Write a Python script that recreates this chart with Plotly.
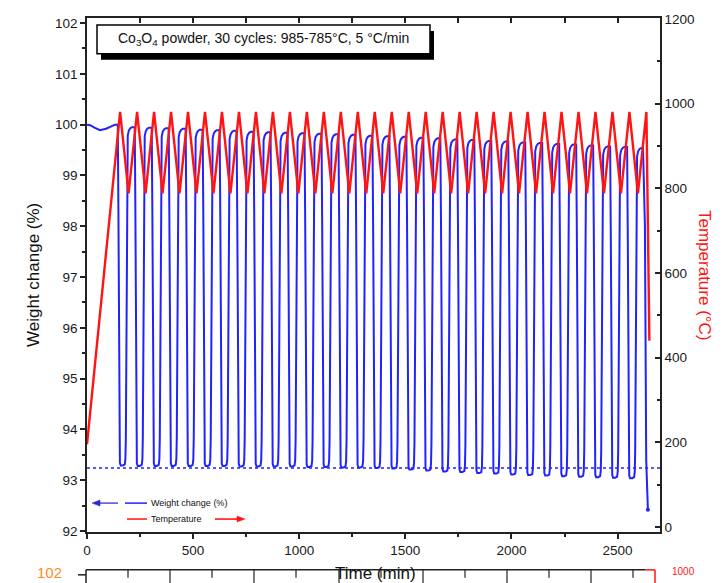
import plotly.graph_objects as go

# ---------------- data ----------------
# Temperature programme (red curve): start, alternating peaks/troughs, end
temp_start_time = 0
temp_start_value = 195
peak_times = [156, 236, 316, 396, 476, 556, 636, 716, 796, 876, 956, 1036, 1116, 1196, 1276, 1356,
              1436, 1516, 1596, 1676, 1756, 1836, 1916, 1996, 2076, 2156, 2236, 2316, 2396, 2476, 2556, 2636]
peak_temps = [980, 980, 980, 980, 980, 980, 980, 980, 980, 980, 980, 980, 980, 980, 980, 980,
              980, 980, 980, 980, 980, 980, 980, 980, 980, 980, 980, 980, 980, 980, 980, 980]
trough_times = [196, 276, 356, 436, 516, 596, 676, 756, 836, 916, 996, 1076, 1156, 1236, 1316, 1396,
                1476, 1556, 1636, 1716, 1796, 1876, 1956, 2036, 2116, 2196, 2276, 2356, 2436, 2516, 2596]
trough_temps = [788, 788, 788, 788, 788, 788, 788, 788, 788, 788, 788, 788, 788, 788, 788, 788,
                788, 788, 788, 788, 788, 788, 788, 788, 788, 788, 788, 788, 788, 788, 788]
temp_end_time = 2650
temp_end_value = 440

# Weight change (blue curve)
weight_init_times = [0, 15, 35, 61, 90, 115, 132, 140]
weight_init_values = [100.0, 99.99, 99.94, 99.89, 99.92, 99.97, 100.0, 100.0]
weight_tops = [99.95, 99.94, 99.93, 99.92, 99.90, 99.89, 99.88, 99.86, 99.85, 99.84, 99.83, 99.82,
               99.81, 99.80, 99.78, 99.77, 99.76, 99.74, 99.73, 99.71, 99.70, 99.68, 99.67, 99.65,
               99.64, 99.62, 99.61, 99.59, 99.57, 99.56, 99.54]
weight_bottoms = [93.29, 93.28, 93.28, 93.28, 93.28, 93.28, 93.28, 93.27, 93.27, 93.27, 93.27, 93.26,
                  93.26, 93.25, 93.25, 93.24, 93.23, 93.21, 93.19, 93.17, 93.16, 93.14, 93.13, 93.11,
                  93.10, 93.09, 93.08, 93.07, 93.06, 93.05, 93.04]
# shape of one redox step: minutes relative to the temperature peak,
# fraction of the way from bottom to top, and which top it refers to
cycle_dt = [-11, -8, -5, -3, -1, 3, 13, 22, 25, 27, 29, 31, 33, 36, 41, 48, 56, 64]
cycle_frac = [1.0, 0.75, 0.15, 0.03, 0.008, 0.0, 0.0, 0.003, 0.02, 0.08, 0.35, 0.75, 0.93, 0.975,
              0.99, 0.997, 1.0, 1.0]
cycle_side = ['d', 'd', 'd', 'd', 'd', 'd', 'u', 'u', 'u', 'u', 'u', 'u', 'u', 'u', 'u', 'u', 'u', 'u']
weight_end_times = [2629, 2632, 2635, 2643]
weight_end_values = [98.0, 94.5, 93.4, 92.42]
baseline_level = 93.24

# ---------------- build series ----------------
temp_t = [temp_start_time]
temp_v = [temp_start_value]
for i in range(len(peak_times)):
    temp_t.append(peak_times[i]); temp_v.append(peak_temps[i])
    if i < len(trough_times):
        temp_t.append(trough_times[i]); temp_v.append(trough_temps[i])
temp_t.append(temp_end_time); temp_v.append(temp_end_value)

w_t = list(weight_init_times)
w_v = list(weight_init_values)
for k in range(len(weight_bottoms)):
    P = peak_times[k]
    t_prev = weight_init_values[-1] if k == 0 else weight_tops[k - 1]
    t_next = weight_tops[k]
    b = weight_bottoms[k]
    for dt, fr, sd in zip(cycle_dt, cycle_frac, cycle_side):
        ref = t_prev if sd == 'd' else t_next
        w_t.append(P + dt)
        w_v.append(b + fr * (ref - b))
w_t += weight_end_times
w_v += weight_end_values

BLUE = '#2222ff'
RED = '#ff1414'
AX = '#222222'
FONT = 'Liberation Sans, Arial, sans-serif'

fig = go.Figure()
fig.add_trace(go.Scatter(x=w_t, y=w_v, mode='lines', line=dict(color=BLUE, width=2),
                         name='Weight change (%)', hoverinfo='skip'))
fig.add_trace(go.Scatter(x=[w_t[-1]], y=[w_v[-1]], mode='markers', marker=dict(color=BLUE, size=4),
                         hoverinfo='skip'))
fig.add_trace(go.Scatter(x=[0, 2700], y=[baseline_level, baseline_level], mode='lines',
                         line=dict(color=BLUE, width=1.5, dash='dot'), hoverinfo='skip'))
fig.add_trace(go.Scatter(x=[None], y=[None], xaxis='x2', yaxis='y', hoverinfo='skip'))
fig.add_trace(go.Scatter(x=temp_t, y=temp_v, mode='lines', yaxis='y2',
                         line=dict(color=RED, width=2.4), name='Temperature', hoverinfo='skip'))

W, H = 726, 583
L, R, T, B = 87, 66, 16, 51
pw, ph = W - L - R, H - T - B


def px(x):
    return (x - L) / pw


def py(y):
    return (H - B - y) / ph


axis_common = dict(showline=True, linecolor=AX, linewidth=1.5, showgrid=False, zeroline=False,
                   tickcolor=AX, tickwidth=1.5, tickfont=dict(size=13.5, color='#1a1a1a', family=FONT))

fig.update_layout(
    width=W, height=H, margin=dict(l=L, r=R, t=T, b=B),
    paper_bgcolor='white', plot_bgcolor='white', showlegend=False,
    font=dict(family=FONT, size=13.5, color='#1a1a1a'),
    xaxis=dict(range=[0, 2700], tickmode='linear', tick0=0, dtick=500, ticks='outside', ticklen=5,
               minor=dict(dtick=250, ticks='outside', ticklen=3, tickwidth=1.5, tickcolor=AX),
               **axis_common),
    xaxis2=dict(range=[0, 2700], overlaying='x', side='top', anchor='y', tickmode='linear', tick0=0,
                dtick=250, ticks='inside', ticklen=5, showticklabels=False, **axis_common),
    yaxis=dict(range=[91.98, 102.1], tickmode='linear', tick0=92, dtick=1, ticks='outside', ticklen=5,
               minor=dict(dtick=0.5, ticks='outside', ticklen=3, tickwidth=1.5, tickcolor=AX),
               **axis_common),
    yaxis2=dict(range=[-12, 1202], overlaying='y', side='right', anchor='x', tickmode='linear', tick0=0,
                dtick=200, ticks='inside', ticklen=5,
                minor=dict(dtick=100, ticks='inside', ticklen=3, tickwidth=1.5, tickcolor=AX),
                **axis_common),
)


def pline(x0, y0, x1, y1, color, width):
    return dict(type='line', xref='paper', yref='paper', x0=px(x0), x1=px(x1), y0=py(y0), y1=py(y1),
                line=dict(color=color, width=width), layer='above')


def ptri(pts, color):
    d = 'M ' + ' L '.join(f'{px(a):.5f},{py(b):.5f}' for a, b in pts) + ' Z'
    return dict(type='path', xref='paper', yref='paper', path=d, fillcolor=color,
                line=dict(color=color, width=0.5), layer='above')


shapes = []
# title box with drop shadow
shapes.append(dict(type='rect', xref='paper', yref='paper', x0=px(101), x1=px(434), y0=py(58), y1=py(29),
                   fillcolor='black', line=dict(width=0), layer='above'))
shapes.append(dict(type='rect', xref='paper', yref='paper', x0=px(97), x1=px(430), y0=py(52), y1=py(23),
                   fillcolor='white', line=dict(color='black', width=1.5), layer='above'))
# legend lines and arrows
shapes.append(pline(125, 503, 147, 503, BLUE, 1.5))
shapes.append(pline(127, 519, 147, 519, RED, 1.5))
shapes.append(pline(99, 503, 118, 503, '#5a5ad8', 1.6))
shapes.append(ptri([(92, 503), (100, 500), (100, 506)], '#2a2ad0'))
shapes.append(pline(215, 519, 238, 519, RED, 1.6))
shapes.append(ptri([(245, 519), (237, 516), (237, 522)], RED))
# fragment of the next panel at the bottom edge
shapes.append(pline(86, 570, 645, 570, AX, 1.5))
shapes.append(pline(645, 570, 655, 570, RED, 1.5))
shapes.append(pline(655, 570, 655, 590, RED, 1.5))
shapes.append(pline(78, 575, 86, 575, AX, 1.5))
shapes.append(pline(86, 570, 86, 590, AX, 1.5))
frag_ticks = [128, 170, 212, 254, 296, 339, 381, 423, 465, 507, 549, 591, 633]
for i, xt in enumerate(frag_ticks):
    shapes.append(pline(xt, 570, xt, 585 if i % 2 == 1 else 578, AX, 1.2))
fig.update_layout(shapes=shapes)

ann = []
ann.append(dict(text='Co<sub>3</sub>O<sub>4</sub> powder, 30 cycles: 985-785°C, 5 °C/min', xref='paper',
                yref='paper', x=px(263.5), y=py(37.5), showarrow=False, xanchor='center', yanchor='middle',
                font=dict(size=14, color='#111111', family=FONT)))
ann.append(dict(text='Weight change (%)', xref='paper', yref='paper', x=px(149), y=py(503), showarrow=False,
                xanchor='left', yanchor='middle', font=dict(size=9, color='#111111', family=FONT)))
ann.append(dict(text='Temperature', xref='paper', yref='paper', x=px(149), y=py(519), showarrow=False,
                xanchor='left', yanchor='middle', font=dict(size=9, color='#111111', family=FONT)))
ann.append(dict(text='Weight change (%)', xref='paper', yref='paper', x=px(33), y=0.5, showarrow=False,
                textangle=-90, xanchor='center', yanchor='middle', font=dict(size=17, color='#111111', family=FONT)))
ann.append(dict(text='Temperature (°C)', xref='paper', yref='paper', x=px(705), y=0.5, showarrow=False,
                textangle=90, xanchor='center', yanchor='middle', font=dict(size=17, color=RED, family=FONT)))
ann.append(dict(text='Time (min)', xref='paper', yref='paper', x=px(375), y=py(574), showarrow=False,
                xanchor='center', yanchor='middle', font=dict(size=17, color='#111111', family=FONT)))
ann.append(dict(text='102', xref='paper', yref='paper', x=px(49), y=py(573), showarrow=False,
                xanchor='center', yanchor='middle', font=dict(size=15, color='#ff8c1a', family=FONT)))
ann.append(dict(text='1000', xref='paper', yref='paper', x=px(683), y=py(572), showarrow=False,
                xanchor='center', yanchor='middle', font=dict(size=10, color=RED, family=FONT)))
fig.update_layout(annotations=ann)

fig.write_html('out.html')
